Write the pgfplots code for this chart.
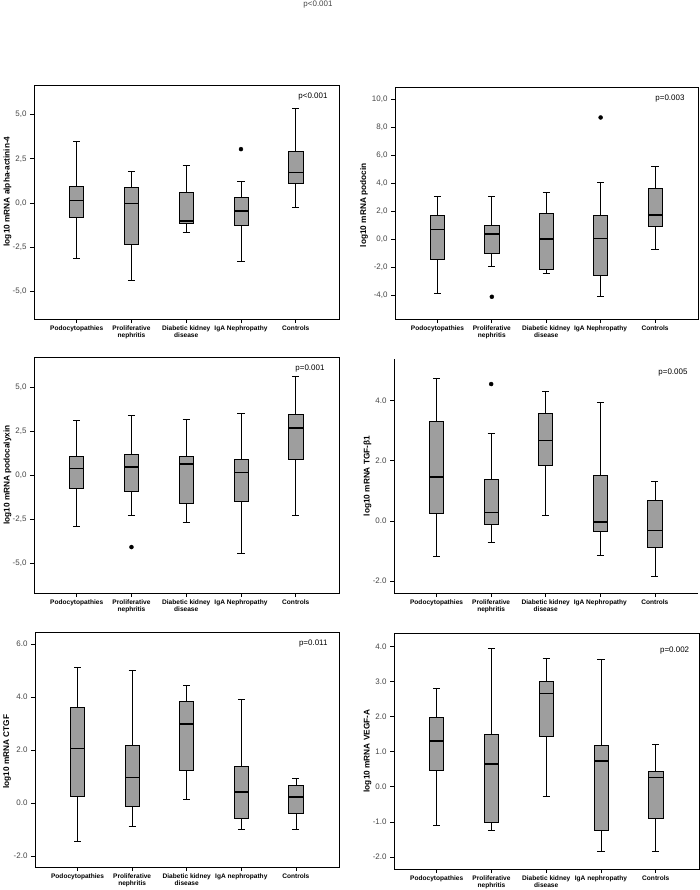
\documentclass[border=0pt]{standalone}
\usepackage{fontspec}
\setmainfont{Liberation Sans}
\usepackage{pgfplots}
\pgfplotsset{compat=1.18}
\usepgfplotslibrary{statistics}
\definecolor{boxgray}{RGB}{158,158,158}
\definecolor{tickgray}{RGB}{70,70,70}
\newcommand{\bx}[6]{\addplot[draw=black, line width=0.7bp, mark=none, boxplot prepared={draw position=#1, lower whisker=#2, lower quartile=#3, median=#4, upper quartile=#5, upper whisker=#6}] coordinates {};}
\pgfplotsset{
  spss/.style={
    scale only axis,
    anchor=south west,
    xmin=-0.78, xmax=4.79,
    xtick={0,1,2,3,4},
    tick align=outside,
    major tick length=4bp,
    xtick pos=bottom, ytick pos=left,
    axis line style={line width=0.8bp, black},
    tick style={line width=0.7bp, black},
    /pgf/number format/assume math mode=true,
    yticklabel style={font=\fontsize{8}{9}\selectfont, text=tickgray},
    xticklabel style={font=\bfseries\fontsize{6.6}{7}\selectfont, align=center, text=black, yshift=1bp},
    ylabel style={font=\bfseries\fontsize{8.3}{9}\selectfont, anchor=center},
    boxplot/draw direction=y,
    boxplot/box extend=0.26,
    boxplot/whisker extend=0.13,
    boxplot/every box/.style={draw=black, fill=boxgray, line width=0.7bp},
    boxplot/every whisker/.style={draw=black, line width=0.7bp},
    boxplot/every median/.style={draw=black, line width=1.6bp},
  },
  comma1/.style={yticklabel style={/pgf/number format/.cd, fixed, fixed zerofill, precision=1, use comma}},
  dot1/.style={yticklabel style={/pgf/number format/.cd, fixed, fixed zerofill, precision=1, use period}},
  labsA/.style={xticklabels={Podocytopathies, {Proliferative\\nephritis}, {Diabetic kidney\\disease}, IgA Nephropathy, Controls}},
  labsB/.style={xticklabels={Podocytopathies, {Proliferative\\nephritis}, {Diabetic kidney\\disease}, IgA nephropathy, Controls}},
  outl/.style={only marks, mark=*, mark size=2bp, mark options={fill=black, draw=black}},
}
\newcommand{\pval}[3]{\node[anchor=east, font=\fontsize{8}{9}\selectfont, xshift=-#2bp, yshift=-#3bp] at (rel axis cs:1,1) {#1};}
\begin{document}
\begin{tikzpicture}
\path[use as bounding box] (0,0) rectangle (700bp,-890bp);
\node[font=\fontsize{8}{9}\selectfont, text=tickgray] at (318bp,-5bp) {p<0.001};

% Panel 1
\begin{axis}[spss, comma1, labsA, at={(34bp,-319bp)}, width=305bp, height=234bp,
  ymin=-6.57, ymax=6.68, ytick={-5,-2.5,0,2.5,5},
  ylabel={log10 mRNA alpha-actinin-4},
  ylabel style={at={(axis description cs:-0.087,0.545)}}]
\bx{0}{-3.16}{-0.79}{0.13}{0.94}{3.48}
\bx{1}{-4.40}{-2.35}{-0.02}{0.88}{1.79}
\bx{2}{-1.65}{-1.17}{-1.03}{0.60}{2.12}
\bx{3}{-3.31}{-1.24}{-0.47}{0.32}{1.22}
\bx{4}{-0.24}{1.13}{1.73}{2.93}{5.34}
\addplot[outl] coordinates {(3,3.05)};
\pval{p<0.001}{8}{11.5}
\end{axis}

% Panel 2
\begin{axis}[spss, comma1, labsA, at={(395bp,-319bp)}, width=303bp, height=232bp,
  ymin=-5.7, ymax=10.9, ytick={-4,-2,0,2,4,6,8,10},
  ylabel={log10 mRNA podocin},
  ylabel style={at={(axis description cs:-0.102,0.49)}}]
\bx{0}{-3.85}{-1.45}{0.71}{1.69}{3.06}
\bx{1}{-1.95}{-0.97}{0.40}{0.97}{3.06}
\bx{2}{-2.42}{-2.12}{0.02}{1.83}{3.35}
\bx{3}{-4.09}{-2.57}{0.05}{1.69}{4.11}
\bx{4}{-0.74}{0.95}{1.76}{3.68}{5.20}
\addplot[outl] coordinates {(1,-4.11) (3,8.72)};
\pval{p=0.003}{10}{11.5}
\end{axis}

% Panel 3
\begin{axis}[spss, comma1, labsA, at={(34bp,-593bp)}, width=305bp, height=236bp,
  ymin=-6.66, ymax=6.7, ytick={-5,-2.5,0,2.5,5},
  ylabel={log10 mRNA podocalyxin},
  ylabel style={at={(axis description cs:-0.087,0.5)}}]
\bx{0}{-2.89}{-0.74}{0.38}{1.06}{3.13}
\bx{1}{-2.25}{-0.91}{0.49}{1.21}{3.38}
\bx{2}{-2.64}{-1.57}{0.64}{1.08}{3.15}
\bx{3}{-4.42}{-1.45}{0.17}{0.92}{3.51}
\bx{4}{-2.26}{0.89}{2.68}{3.45}{5.62}
\addplot[outl] coordinates {(1,-4.06)};
\pval{p=0.001}{11}{12}
\end{axis}

% Panel 4
\begin{axis}[spss, dot1, labsA, at={(394bp,-593bp)}, width=304bp, height=234bp,
  axis x line*=bottom, axis y line*=left, axis line style={-},
  ymin=-2.39, ymax=5.37, ytick={-2,0,2,4},
  ylabel={log10 mRNA TGF-β1},
  ylabel style={at={(axis description cs:-0.087,0.5)}}]
\bx{0}{-1.18}{0.25}{1.46}{3.30}{4.73}
\bx{1}{-0.72}{-0.12}{0.28}{1.38}{2.91}
\bx{2}{0.20}{1.85}{2.67}{3.56}{4.31}
\bx{3}{-1.14}{-0.35}{-0.04}{1.51}{3.94}
\bx{4}{-1.85}{-0.88}{-0.32}{0.69}{1.31}
\addplot[outl] coordinates {(1,4.54)};
\pval{p=0.005}{7}{14}
\end{axis}

% Panel 5
\begin{axis}[spss, dot1, labsB, at={(35bp,-867bp)}, width=304bp, height=235bp,
  ymin=-2.42, ymax=6.46, ytick={-2,0,2,4,6},
  ylabel={log10 mRNA CTGF},
  ylabel style={at={(axis description cs:-0.092,0.49)}}]
\bx{0}{-1.46}{0.24}{2.06}{3.61}{5.14}
\bx{1}{-0.89}{-0.14}{0.96}{2.19}{5.01}
\bx{2}{0.13}{1.22}{2.98}{3.84}{4.43}
\bx{3}{-0.99}{-0.59}{0.42}{1.37}{3.91}
\bx{4}{-0.99}{-0.39}{0.23}{0.65}{0.92}
\pval{p=0.011}{8}{11.7}
\end{axis}

% Panel 6
\begin{axis}[spss, dot1, labsB, at={(394bp,-869bp)}, width=305bp, height=236bp,
  ymin=-2.34, ymax=4.38, ytick={-2,-1,0,1,2,3,4},
  ylabel={log10 mRNA VEGF-A},
  ylabel style={at={(axis description cs:-0.087,0.5)}}]
\bx{0}{-1.11}{0.48}{1.31}{1.99}{2.80}
\bx{1}{-1.24}{-1.01}{0.65}{1.50}{3.93}
\bx{2}{-0.28}{1.45}{2.66}{2.99}{3.65}
\bx{3}{-1.85}{-1.24}{0.74}{1.17}{3.62}
\bx{4}{-1.85}{-0.91}{0.27}{0.43}{1.22}
\pval{p=0.002}{6.3}{18}
\end{axis}
\end{tikzpicture}
\end{document}
